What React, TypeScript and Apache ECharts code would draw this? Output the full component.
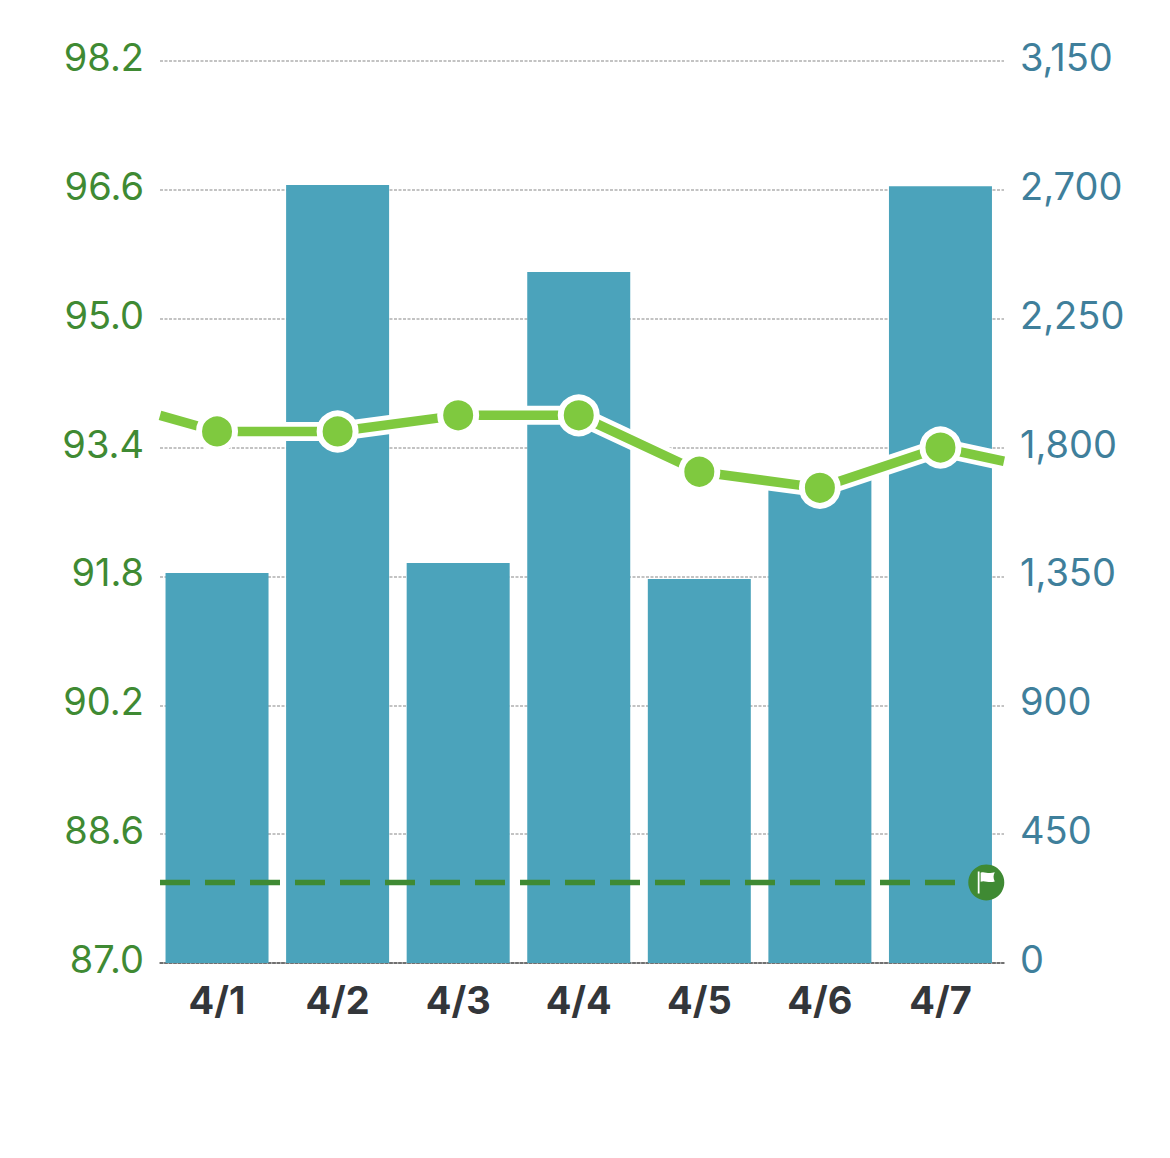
import React, { useEffect, useRef } from "react";
import * as echarts from "echarts";

const categories = ["4/1", "4/2", "4/3", "4/4", "4/5", "4/6", "4/7"];
const barValues = [1362, 2717, 1397, 2413, 1341, 1700, 2713];
const lineValues = [93.6, 93.6, 93.8, 93.8, 93.1, 92.9, 93.4];
const lineAtLeftEdge = 93.8;
const lineAtRightEdge = 93.23;
const goalValue = 88;
const goalEndIndex = 6.38;
const leftTicks = [87.0, 88.6, 90.2, 91.8, 93.4, 95.0, 96.6, 98.2];
const xMin = -0.473;
const xMax = 6.527;

const GREEN = "#3f8a33";
const BLUE = "#3f7f9b";
const FONT = "Inter, 'Liberation Sans', sans-serif";
const FLAG =
  "path://M0 0H1.6V22H0Z M2.6 1.2C6 -0.6 9 3 15.5 0.8C14 4 14 6.5 15.5 10C10 12 6 8.5 2.6 10.4Z";

export default function App() {
  const ref = useRef<HTMLDivElement>(null);
  useEffect(() => {
    const chart = echarts.init(ref.current!, null, { renderer: "svg" });
    const idx = categories.map((_, i) => i);
    const linePoints = [
      [xMin, lineAtLeftEdge],
      ...lineValues.map((v, i) => [i, v]),
      [xMax, lineAtRightEdge],
    ];
    chart.setOption({
      animation: false,
      grid: { left: 160, right: 166, top: 61, bottom: 195 },
      xAxis: {
        type: "value",
        min: xMin,
        max: xMax,
        splitLine: { show: false },
        axisTick: { show: false },
        axisLine: { show: true, onZero: false, lineStyle: { color: "#555", width: 1.5, type: [3, 1.5] } },
        axisLabel: {
          customValues: idx,
          formatter: (v: number) => categories[Math.round(v)] ?? "",
          color: "#33363a",
          fontFamily: FONT,
          fontWeight: 700,
          fontSize: 38,
          margin: 18,
          hideOverlap: false,
        },
      },
      yAxis: [
        {
          type: "value",
          min: 87,
          max: 98.2,
          position: "left",
          splitLine: { show: false },
          axisLine: { show: false },
          axisTick: { show: false },
          axisLabel: {
            customValues: leftTicks,
            formatter: (v: number) => v.toFixed(1),
            color: GREEN,
            fontFamily: FONT,
            fontSize: 38,
            margin: 16,
            verticalAlign: "bottom",
            lineHeight: 8,
          },
        },
        {
          type: "value",
          min: 0,
          max: 3150,
          interval: 450,
          position: "right",
          splitLine: { show: true, lineStyle: { color: "#b0b0b0", width: 1.5, type: [3, 1.5] } },
          axisLine: { show: false },
          axisTick: { show: false },
          axisLabel: {
            formatter: (v: number) => v.toLocaleString("en-US"),
            color: BLUE,
            fontFamily: FONT,
            fontSize: 38,
            margin: 16,
            verticalAlign: "bottom",
            lineHeight: 8,
          },
        },
      ],
      series: [
        {
          type: "bar",
          yAxisIndex: 1,
          barWidth: 103,
          itemStyle: { color: "#4ba3bb" },
          data: barValues.map((v, i) => [i, v]),
          z: 2,
        },
        {
          type: "line",
          yAxisIndex: 0,
          data: [[xMin, goalValue], [goalEndIndex, goalValue]],
          showSymbol: false,
          lineStyle: { color: GREEN, width: 5.5, type: [30, 15] },
          z: 3,
        },
        {
          type: "line",
          yAxisIndex: 0,
          data: linePoints,
          showSymbol: false,
          lineStyle: { color: "#ffffff", width: 19 },
          z: 4,
        },
        {
          type: "line",
          yAxisIndex: 0,
          data: linePoints,
          showSymbol: false,
          lineStyle: { color: "#7fc93f", width: 9.5 },
          z: 5,
        },
        {
          type: "scatter",
          yAxisIndex: 0,
          data: lineValues.map((v, i) => [i, v]),
          symbol: "circle",
          symbolSize: 36,
          itemStyle: { color: "#7fc93f", borderColor: "#ffffff", borderWidth: 6, opacity: 1 },
          z: 6,
        },
        {
          type: "scatter",
          yAxisIndex: 0,
          data: [[goalEndIndex, goalValue]],
          symbol: "circle",
          symbolSize: 36,
          itemStyle: { color: GREEN, opacity: 1 },
          z: 7,
        },
        {
          type: "scatter",
          yAxisIndex: 0,
          data: [[goalEndIndex, goalValue]],
          symbol: FLAG,
          symbolSize: [17, 22],
          itemStyle: { color: "#ffffff", opacity: 1 },
          z: 8,
        },
      ],
    });
    return () => chart.dispose();
  }, []);
  return (
    <div
      ref={ref}
      style={{ position: "absolute", left: 0, top: 0, width: 1170, height: 1158, background: "#fff" }}
    />
  );
}
